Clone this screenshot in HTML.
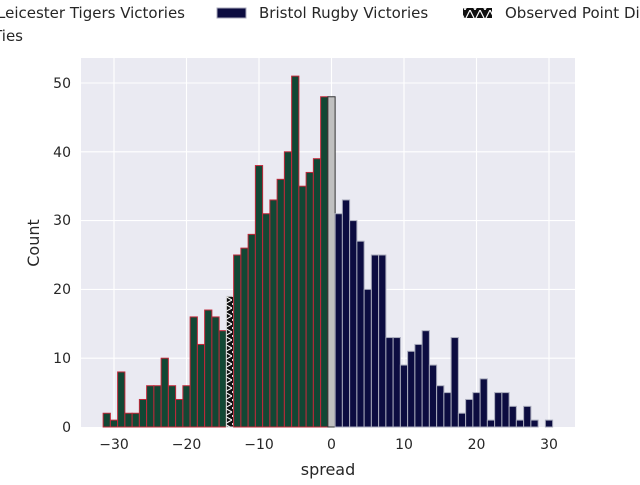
<!DOCTYPE html>
<html><head><meta charset="utf-8"><style>
body{margin:0;background:#fff;width:640px;height:480px;overflow:hidden}
svg text{font-family:"DejaVu Sans","Liberation Sans",sans-serif;fill:#262626}
</style></head><body>
<svg id="s" width="640" height="480" xmlns="http://www.w3.org/2000/svg">
<defs>
<pattern id="hz" width="7.25" height="8" patternUnits="userSpaceOnUse">
<rect width="7.25" height="8" fill="#111"/>
<path d="M0,0 L7.25,4 L0,8" fill="none" stroke="#fff" stroke-width="1"/>
</pattern>
<pattern id="hl" width="10" height="10" patternUnits="userSpaceOnUse">
<rect width="10" height="10" fill="#111"/>
<path d="M0,0 L5,10 L10,0" fill="none" stroke="#fff" stroke-width="1.2"/>
</pattern>
</defs>
<rect x="81" y="58" width="494" height="369" fill="#eaeaf2"/>
<g id="grid" stroke="#fff" stroke-width="1.1"></g>
<g id="bars"></g>
<g font-size="14" text-anchor="middle">
<text x="114" y="449">−30</text><text x="186.5" y="449">−20</text><text x="259" y="449">−10</text>
<text x="331.5" y="449">0</text><text x="404" y="449">10</text><text x="476.5" y="449">20</text><text x="549" y="449">30</text>
</g>
<g font-size="14" text-anchor="end">
<text x="71" y="432">0</text><text x="71" y="363">10</text><text x="71" y="294">20</text>
<text x="71" y="225">30</text><text x="71" y="157">40</text><text x="71" y="88">50</text>
</g>
<text x="328" y="475" font-size="16" text-anchor="middle">spread</text>
<text transform="translate(39,243) rotate(-90)" font-size="16" text-anchor="middle">Count</text>
<g font-size="15">
<text x="185" y="18" text-anchor="end">Leicester Tigers Victories</text>
<rect x="217" y="8" width="29" height="10" fill="#0c0c40" stroke="#aab" stroke-width="1"/>
<text x="259" y="18">Bristol Rugby Victories</text>
<rect x="463" y="8" width="29" height="10" fill="url(#hl)"/>
<text x="505" y="18">Observed Point Difference</text>
<text x="23" y="41" text-anchor="end">Ties</text>
</g>
</svg>
<script>
var g=document.getElementById('grid'),b=document.getElementById('bars'),ns='http://www.w3.org/2000/svg';
function X(v){return 331.5+7.25*v}function Y(v){return 427-6.88*v}
function el(p,t,a){var e=document.createElementNS(ns,t);for(var k in a)e.setAttribute(k,a[k]);p.appendChild(e);return e}
for(var v=-30;v<=30;v+=10)el(g,'line',{x1:X(v),x2:X(v),y1:58,y2:427});
for(var v=10;v<=50;v+=10)el(g,'line',{x1:81,x2:575,y1:Y(v),y2:Y(v)});
var L=[2,1,8,2,2,4,6,6,10,6,4,6,16,12,17,16,14,19,25,26,28,38,31,33,36,40,51,35,37,39,48];
for(var i=0;i<L.length;i++){var c=-31+i,h=L[i];
 el(b,'rect',{x:X(c-0.5),y:Y(h),width:7.25,height:6.88*h,fill:c==-14?'url(#hz)':'#124734',stroke:c==-14?'#ddd':'#c0283a','stroke-width':1});}
el(b,'rect',{x:X(-0.5),y:Y(48),width:7.25,height:6.88*48,fill:'#c0c0c0',stroke:'#333','stroke-width':1});
var R=[31,33,30,27,20,25,25,13,13,9,11,12,14,9,6,5,13,2,4,5,7,1,5,5,3,1,3,1,0,1];
for(var i=0;i<R.length;i++){var c=1+i,h=R[i];if(!h)continue;
 el(b,'rect',{x:X(c-0.5),y:Y(h),width:7.25,height:6.88*h,fill:'#0c0c40',stroke:'#a8aabb','stroke-width':1});}
</script>
</body></html>
